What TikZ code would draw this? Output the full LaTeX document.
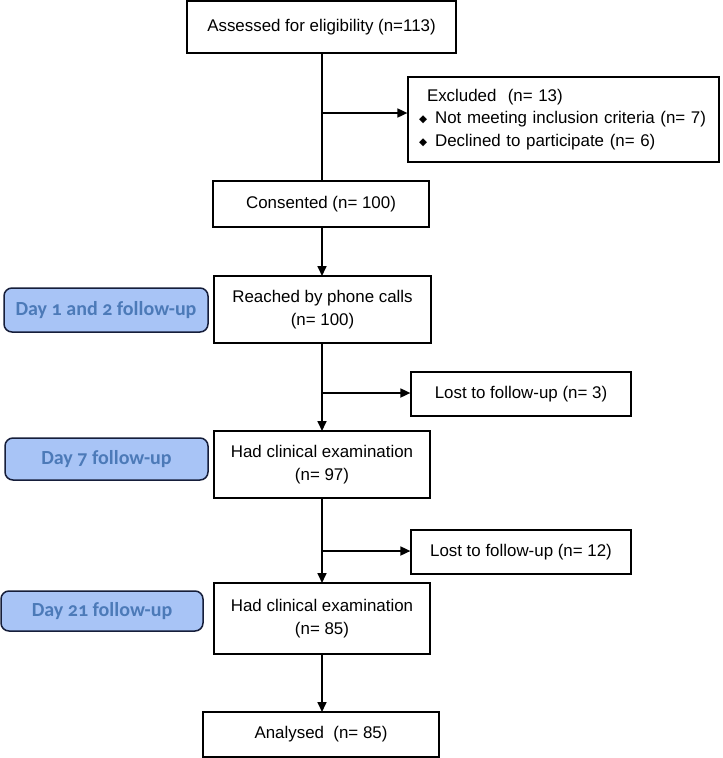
\documentclass[tikz,border=0pt]{standalone}
\usepackage{fontspec}
\setmainfont{Liberation Sans}
\newfontfamily\dayfont[Numbers=OldStyle]{Carlito}
\newfontfamily\djv{DejaVu Sans}
\usetikzlibrary{arrows.meta}
\definecolor{dayfill}{RGB}{168,196,246}
\definecolor{daytext}{RGB}{76,122,184}
\definecolor{dayline}{RGB}{22,30,58}
\newcommand{\bul}{\raisebox{1pt}{\djv\fontsize{10.5}{10}\selectfont ◆}\hspace{8pt}}
\tikzset{
  x=1pt, y=-1pt,
  flowbox/.style={draw=black, line width=1.2pt, align=center, inner sep=0pt,
    font=\fontsize{16.9}{22.5}\selectfont},
  daybox/.style={draw=dayline, fill=dayfill, line width=1.5pt, rounded corners=8pt,
    inner sep=0pt, font=\dayfont\bfseries\fontsize{20}{22}\selectfont, text=daytext},
  conn/.style={line width=1.7pt},
  arr/.style={line width=1.7pt, -{Triangle[length=10pt,width=9pt]}}
}
\begin{document}
\begin{tikzpicture}
\useasboundingbox (0,0) rectangle (723,758);
\node[flowbox, minimum width=269pt, minimum height=52pt] (assess) at (321.5,27) {Assessed for eligibility (n=113)};
\node[flowbox, minimum width=311pt, minimum height=85pt, text width=289pt, align=left, inner xsep=11pt] (excl) at (563.5,119.5)
  {\hspace{8pt}Excluded\ \ (n= 13)\\ \bul Not meeting inclusion criteria (n= 7)\\ \bul Declined to participate (n= 6)};
\node[flowbox, minimum width=216pt, minimum height=46pt] (cons) at (321,204) {Consented (n= 100)};
\node[flowbox, minimum width=217pt, minimum height=67pt] (reach) at (322.5,309.5) {Reached by phone calls\\(n= 100)};
\node[flowbox, minimum width=220pt, minimum height=44pt] (lost1) at (521,394) {Lost to follow-up (n= 3)};
\node[flowbox, minimum width=216pt, minimum height=67pt] (had1) at (322,464.5) {Had clinical examination\\(n= 97)};
\node[flowbox, minimum width=220pt, minimum height=44pt] (lost2) at (521,552) {Lost to follow-up (n= 12)};
\node[flowbox, minimum width=216pt, minimum height=71pt] (had2) at (322,618.5) {Had clinical examination\\(n= 85)};
\node[flowbox, minimum width=236pt, minimum height=45pt] (anal) at (321,734.5) {Analysed\ \ (n= 85)};

\node[daybox, minimum width=204pt, minimum height=44pt] (day1) at (106,310) {Day 1 and 2 follow-up};
\node[daybox, minimum width=203pt, minimum height=42pt] (day7) at (106.5,459) {Day 7 follow-up};
\node[daybox, minimum width=202pt, minimum height=40pt] (day21) at (102,611) {Day 21 follow-up};

\coordinate (b1) at (322,113);
\coordinate (b2) at (322,393);
\coordinate (b3) at (322,551);

\draw[conn] (322,53) -- (322,181);
\draw[arr] (b1) -- (b1 -| excl.west);
\draw[arr] (322,227) -- (322,276);
\draw[arr] (322,343) -- (322,431);
\draw[arr] (b2) -- (b2 -| lost1.west);
\draw[arr] (322,498) -- (322,583);
\draw[arr] (b3) -- (b3 -| lost2.west);
\draw[arr] (322,654) -- (322,712);
\end{tikzpicture}
\end{document}
